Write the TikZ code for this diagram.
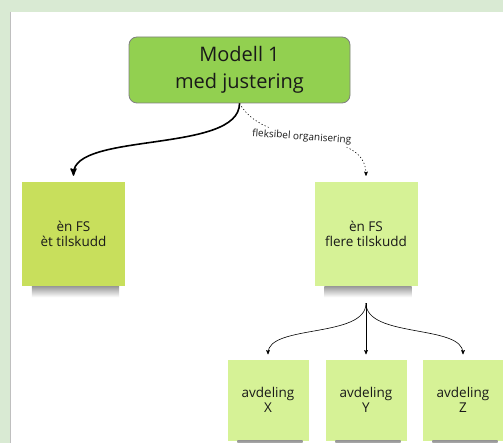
\documentclass[tikz,border=0pt]{standalone}
\usepackage{fontspec}
\setmainfont{Open Sans}
\usetikzlibrary{arrows, positioning}

\definecolor{framegreen}{HTML}{D9EAD3}
\definecolor{boxgreen}{HTML}{92D050}
\definecolor{limenote}{HTML}{C8DF5C}
\definecolor{palenote}{HTML}{D6F296}

\begin{document}
\begin{tikzpicture}[x=1pt, y=1pt, >=stealth', on grid, align=center,
    inner sep=1pt, every node/.style={text=black!90}]

  \tikzstyle{sticky}=[minimum width=103pt, minimum height=104pt,
  font=\fontsize{13.5}{15}\selectfont]
  \tikzstyle{small sticky}=[sticky, minimum width=81pt, minimum height=81pt,
  fill=palenote]

  \useasboundingbox (0,0) rectangle (503,-443);
  \fill[framegreen] (0,0) rectangle (503,-443);
  \fill[white] (11,-12) rectangle (503,-443);
  \draw[black!25, line width=0.8pt] (10.6,-12) -- (10.6,-443);

  \node[draw=black!50, line width=0.8pt, fill=boxgreen, rounded corners=8pt,
  minimum width=221pt, minimum height=66pt,
  font=\fontsize{20}{27}\selectfont] (top) at (239.5,-70)
  {Modell 1\\med justering};
  \node[sticky, fill=limenote] (ett) [below left=164pt and 166pt of top]
  {èn FS\\èt tilskudd};
  \node[sticky, fill=palenote] (flere) [below right=164pt and 126.5pt of top]
  {èn FS\\flere tilskudd};
  \node[small sticky] (avdY) [below=166pt of flere] {avdeling\\Y};
  \node[small sticky] (avdX) [left=98pt of avdY] {avdeling\\X};
  \node[small sticky] (avdZ) [right=97pt of avdY] {avdeling\\Z};
  \coordinate[below=17pt of flere.south] (fan);

  % shadows under the notes
  \foreach \n in {ett, flere, avdX, avdY, avdZ}
  \shade[top color=black!40, bottom color=white]
  ([xshift=10pt]\n.south west) rectangle ([xshift=-6pt, yshift=-11pt]\n.south east);

  \path[->]
  (top.south) edge [line width=1.6pt, out=-90, in=90, looseness=0.7,
  shorten >=6pt] (ett.north)
  edge [dash pattern=on 1.2pt off 2.2pt, line width=0.6pt, out=-60, in=90,
  shorten >=6pt]
  node [pos=0.43, rotate=-4, fill=white, inner sep=2pt,
  font=\fontsize{10}{11}\selectfont] {fleksibel organisering} (flere.north)

  (fan) edge [line width=0.6pt, out=-90, in=90, looseness=0.8,
  shorten >=5pt] (avdX.north)
  edge [line width=0.6pt, shorten >=5pt] (avdY.north)
  edge [line width=0.6pt, out=-90, in=90, looseness=0.8,
  shorten >=5pt] (avdZ.north);
\end{tikzpicture}
\end{document}
